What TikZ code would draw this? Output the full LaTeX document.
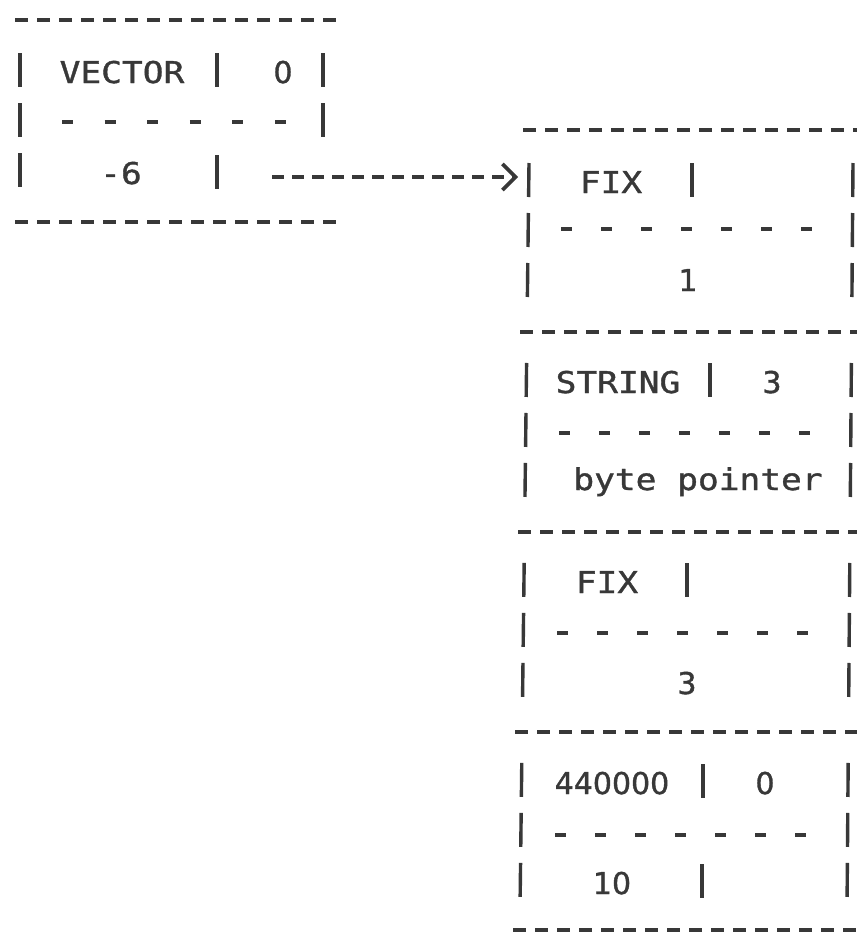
\documentclass[tikz,border=0pt]{standalone}
\usepackage{fontspec}
\newfontfamily\asciifont{DejaVu Sans Mono}[FakeStretch=1.15, FakeBold=1.2]
\newfontfamily\digitfont{DejaVu Sans}[FakeStretch=1.0, FakeBold=1.2]
\usetikzlibrary{arrows.meta}
\definecolor{ink}{HTML}{383838}
\tikzset{
  lbl/.style ={font=\asciifont\fontsize{30pt}{30pt}\selectfont, text=ink, inner sep=0pt, anchor=base},
  num/.style ={lbl, font=\digitfont\fontsize{30pt}{30pt}\selectfont},
  sep/.style ={draw=ink, line width=3.6pt, dash pattern=on 13pt off 9pt},
  split/.style ={draw=ink, line width=3.6pt, dash pattern=on 11pt off 29pt},
  lsplit/.style ={draw=ink, line width=3.6pt, dash pattern=on 11pt off 31.6pt},
  wall/.style ={draw=ink, line width=3.4pt, dash pattern=on 34pt off 16pt on 34pt off 16pt on 34pt off 66pt},
  bar/.style ={draw=ink, line width=3.4pt},
  ptr/.style ={draw=ink, line width=3.6pt, dash pattern=on 12pt off 8pt, -{Straight Barb[length=13pt, width=26pt]}},
}
\begin{document}
\begin{tikzpicture}[x=1pt, y=-1pt]
  \useasboundingbox[fill=white] (0,0) rectangle (857,935);
  % vector header
  \node[lbl] (vec) at (122,83) {VECTOR};
  \node[num] (vlen) at (283,83) {0};
  \node[lbl] (vneg) at (121,184) {-6};
  \draw[sep] (15,20) -- (337,20);
  \draw[sep] (15,222) -- (337,222);
  \draw[lsplit] (62,122) -- (292,122);
  \draw[wall] (20,53) -- (20,190);
  \draw[wall] (323,53) -- (323,140);
  \draw[bar] (217,53) -- ++(0,34);
  \draw[bar] (217,155) -- ++(0,34);
  \coordinate (ptr) at (272,177);
  % vector elements
  \node[lbl] (fix1) at (611,193) {FIX};
  \node[num] (one) at (688,291) {1};
  \node[lbl] (str) at (618,393) {STRING};
  \node[num] (slen) at (772,393) {3};
  \node[lbl] (bptr) at (698,490) {byte pointer};
  \node[lbl] (fix2) at (607,593) {FIX};
  \node[num] (three) at (687,694) {3};
  \node[num] (oct) at (612,794) {440000};
  \node[num] (zero) at (765,794) {0};
  \node[num] (ten) at (612,894) {10};
  \coordinate (elems) at (518,177);
  \draw[sep] (523,130) -- (870,130);
  \draw[sep] (520,332) -- (870,332);
  \draw[sep] (518,532) -- (870,532);
  \draw[sep] (515,732) -- (870,732);
  \draw[sep] (513,930) -- (870,930);
  \draw[split] (561,229) -- (822,229);
  \draw[split] (559,433) -- (820,433);
  \draw[split] (557,633) -- (818,633);
  \draw[split] (555,835) -- (816,835);
  \draw[wall] (529,163) -- (520,910);
  \draw[wall] (853,163) -- (847,910);
  \draw[bar] (692,163) -- ++(0,34);
  \draw[bar] (710,363) -- ++(0,34);
  \draw[bar] (687,563) -- ++(0,34);
  \draw[bar] (703,764) -- ++(0,34);
  \draw[bar] (702,864) -- ++(0,34);
  \draw[ptr] (ptr) -- (elems);
\end{tikzpicture}
\end{document}
